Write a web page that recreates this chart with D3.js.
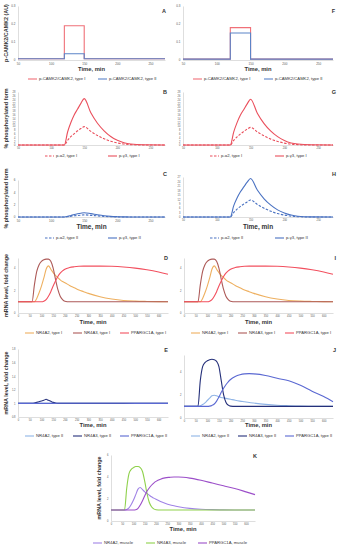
<!DOCTYPE html>
<html>
<head>
<meta charset="utf-8">
<script src="https://cdn.jsdelivr.net/npm/d3@7"></script>
<style>
  body { margin: 0; background: #fff; }
  svg { display: block; font-family: "Liberation Sans", Arial, sans-serif; }
</style>
</head>
<body>
<div id="chart"></div>
<script>
// ---- data ----
// CAMK2 pulse (panels A, F)
const tCamk = [50, 120, 120, 150, 150, 272];
const camkA1 = [0.007, 0.007, 0.19, 0.19, 0.007, 0.007];
const camkA2 = [0.007, 0.007, 0.035, 0.035, 0.007, 0.007];
const camkF1 = [0.005, 0.005, 0.18, 0.18, 0.005, 0.005];
const camkF2 = [0.005, 0.005, 0.15, 0.15, 0.005, 0.005];

// AMPK subunit phosphorylation (panels B, C, G, H)
const tPhos = [50, 120, 125, 130, 135, 140, 145, 150, 160, 170, 180, 190, 200, 210, 220, 240, 272];
const gammaB = [0, 0, 7, 12, 16, 19, 22, 24.5, 17, 11.5, 7.5, 4.5, 2.5, 1.2, 0.5, 0.1, 0];
const alphaB = [0, 0, 2.5, 4.5, 6, 7.5, 8.7, 9.7, 7.2, 5, 3.3, 2, 1.1, 0.5, 0.2, 0, 0];
const gammaG = [0, 0, 6.8, 11.8, 15.8, 18.8, 21.7, 24.2, 16.8, 11.3, 7.3, 4.4, 2.4, 1.1, 0.5, 0.1, 0];
const alphaG = [0, 0, 2.4, 4.3, 5.8, 7.2, 8.4, 9.3, 6.9, 4.8, 3.1, 1.9, 1, 0.5, 0.2, 0, 0];
const gammaC = [0, 0, 0.1, 0.25, 0.4, 0.52, 0.62, 0.7, 0.55, 0.36, 0.2, 0.1, 0.05, 0.02, 0, 0, 0];
const alphaC = [0, 0, 0.05, 0.12, 0.19, 0.25, 0.3, 0.35, 0.27, 0.18, 0.1, 0.05, 0.02, 0, 0, 0, 0];
const gammaH = [0, 0, 7.5, 12.8, 17, 20.3, 23.5, 26, 18.2, 12.3, 8, 4.8, 2.7, 1.3, 0.5, 0.1, 0];
const alphaH = [0, 0, 3, 5.3, 7.2, 8.8, 10.2, 11.5, 8.5, 5.9, 3.9, 2.3, 1.3, 0.6, 0.2, 0, 0];

// mRNA fold change (panels D, E, I, J, K)
const tMrna = [0, 50, 60, 70, 80, 90, 100, 110, 120, 130, 140, 150, 160, 170, 180, 190, 200,
  220, 240, 260, 280, 300, 350, 400, 450, 500, 550, 600, 640];
const nr4a2TypeI = [1, 1, 1, 1, 1.3, 1.8, 2.4, 3.1, 3.9, 4.2, 3.9, 3.6, 3.35, 3.15, 2.95, 2.8, 2.7,
  2.45, 2.25, 2.05, 1.9, 1.75, 1.45, 1.25, 1.12, 1.06, 1.03, 1.01, 1];
const nr4a3TypeI = [1, 1, 1, 2.5, 3.7, 4.3, 4.6, 4.75, 4.8, 4.8, 4.6, 4, 3, 2.1, 1.5, 1.2, 1.05,
  1, 1, 1, 1, 1, 1, 1, 1, 1, 1, 1, 1];
const pgcTypeI = [1, 1, 1, 1, 1, 1, 1, 1.05, 1.2, 1.5, 1.9, 2.4, 2.85, 3.25, 3.55, 3.75, 3.9,
  4.05, 4.12, 4.16, 4.18, 4.18, 4.18, 4.16, 4.1, 4, 3.85, 3.65, 3.45];
const nr4a2TypeIIweak = [1, 1, 1, 1, 1, 1, 1, 1, 1, 1, 1, 1, 1, 1, 1, 1, 1,
  1, 1, 1, 1, 1, 1, 1, 1, 1, 1, 1, 1];
const nr4a3TypeIIweak = [1, 1, 1, 1.005, 1.015, 1.025, 1.035, 1.045, 1.06, 1.045, 1.03, 1.015, 1.005, 1, 1, 1, 1,
  1, 1, 1, 1, 1, 1, 1, 1, 1, 1, 1, 1];
const pgcTypeIIweak = [1, 1, 1, 1, 1, 1, 1, 1, 1, 1, 1, 1.001, 1.002, 1.003, 1.003, 1.003, 1.003,
  1.003, 1.003, 1.003, 1.003, 1.003, 1.002, 1.002, 1.002, 1.001, 1.001, 1.001, 1.001];
const nr4a2TypeII = [1, 1, 1, 1.05, 1.15, 1.3, 1.5, 1.7, 1.9, 1.95, 1.9, 1.82, 1.76, 1.72, 1.68, 1.64, 1.6,
  1.52, 1.45, 1.39, 1.33, 1.28, 1.17, 1.09, 1.05, 1.02, 1.01, 1, 1];
const nr4a3TypeII = [1, 1, 1, 3.2, 4.4, 4.75, 4.9, 5, 5.03, 5, 4.85, 4.4, 3.2, 2, 1.35, 1.1, 1.02,
  1, 1, 1, 1, 1, 1, 1, 1, 1, 1, 1, 1];
const pgcTypeII = [1, 1, 1, 1, 1, 1, 1, 1.02, 1.08, 1.2, 1.45, 1.8, 2.2, 2.55, 2.85, 3.1, 3.3,
  3.55, 3.7, 3.78, 3.8, 3.78, 3.65, 3.4, 3.2, 2.8, 2.3, 1.85, 1.4];
const nr4a2Muscle = [1, 1, 1, 1.05, 1.2, 1.5, 1.9, 2.4, 2.9, 3.05, 2.85, 2.65, 2.5, 2.35, 2.2, 2.08, 1.97,
  1.78, 1.62, 1.48, 1.38, 1.3, 1.15, 1.07, 1.03, 1.01, 1, 1, 1];
const nr4a3Muscle = [1, 1, 1, 3, 4.3, 4.7, 4.85, 4.95, 4.95, 4.85, 4.5, 3.6, 2.5, 1.7, 1.3, 1.1, 1.03,
  1, 1, 1, 1, 1, 1, 1, 1, 1, 1, 1, 1];
const pgcMuscle = [1, 1, 1, 1, 1, 1, 1, 1.03, 1.15, 1.45, 1.85, 2.3, 2.7, 3, 3.25, 3.45, 3.6,
  3.8, 3.92, 3.97, 4, 4, 3.9, 3.7, 3.45, 3.2, 2.95, 2.65, 2.4];

// tick labels
const camkXTicks = [50, 100, 150, 200, 250];
const camkYTicks = [0, 0.1, 0.2, 0.3];
const phosYTicksB = [0, 2, 4, 6, 8, 10, 12, 14, 16, 18, 20, 22, 24, 26, 28];
const phosYTicksC = [0, 2, 4, 6];
const phosYTicksH = [0, 3, 6, 9, 12, 15, 18, 21, 24, 27];
const mrnaXTicks = [0, 50, 100, 150, 200, 250, 300, 350, 400, 450, 500, 550, 600];
const mrnaYTicks = [0, 2, 4];
const mrnaYTicksE = [0.8, 1, 1.2, 1.4, 1.6, 1.8];
const mrnaYTicksJK = [0, 2, 4, 6];

// colours
const red1 = "#f07078", blue2 = "#5b84c8";
const phosRed = "#ea4f5c", phosBlue = "#4a72c2";
const cNr4a2I = "#eeb060", cNr4a3I = "#ad5a58", cPgcI = "#f2505f";
const cNr4a2II = "#8fb4e6", cNr4a3II = "#25307a", cPgcII = "#5a68d2";
const cNr4a2M = "#a083e6", cNr4a3M = "#8fd14c", cPgcM = "#9c4fc9";

const W = 338, H = 550;
const svg = d3.select("#chart").append("svg").attr("width", W).attr("height", H);

function panel(p) {
  const x = d3.scaleLinear().domain(p.xDomain).range([p.left, p.right]);
  const y = d3.scaleLinear().domain(p.yDomain).range([p.bottom, p.top]);
  const g = svg.append("g");

  // axes
  const xAxis = g.append("g")
    .attr("transform", `translate(0,${p.bottom})`)
    .call(d3.axisBottom(x).tickValues(p.xTicks).tickSize(0).tickPadding(2.5));
  const yAxis = g.append("g")
    .attr("transform", `translate(${p.left},0)`)
    .call(d3.axisLeft(y).tickValues(p.yTicks).tickSize(0).tickPadding(2.5)
      .tickFormat(d3.format("~g")));
  [xAxis, yAxis].forEach((a) => {
    a.select(".domain").attr("stroke", "#c8c8c8").attr("stroke-width", 0.6);
    a.selectAll("text").attr("fill", "#555").style("font-size", p.tickFont || "3px");
  });

  // series
  const line = d3.line()
    .x((d) => x(d[0]))
    .y((d) => y(d[1]))
    .curve(p.curve || d3.curveMonotoneX);
  p.series.forEach((s) => {
    g.append("path")
      .datum(p.t.map((t, i) => [t, s.values[i]]))
      .attr("fill", "none")
      .attr("stroke", s.color)
      .attr("stroke-width", s.width || 1.1)
      .attr("stroke-dasharray", s.dash || null)
      .attr("d", line);
  });

  // axis titles
  if (p.xTitle) {
    g.append("text")
      .attr("x", (p.left + p.right) / 2)
      .attr("y", p.xTitleY)
      .attr("text-anchor", "middle")
      .style("font-size", p.xTitleSize || "5.8px")
      .style("font-weight", "bold")
      .attr("fill", "#333")
      .text(p.xTitle);
  }
  if (p.yTitle) {
    g.append("text")
      .attr("transform", `translate(${p.yTitleX},${(p.top + p.bottom) / 2}) rotate(-90)`)
      .attr("text-anchor", "middle")
      .style("font-size", p.yTitleSize || "5.4px")
      .style("font-weight", "bold")
      .attr("fill", "#333")
      .text(p.yTitle);
  }

  // panel letter
  g.append("text")
    .attr("x", p.letterX)
    .attr("y", p.letterY)
    .attr("text-anchor", "end")
    .style("font-size", "5.5px")
    .style("font-weight", "bold")
    .attr("fill", "#333")
    .text(p.letter);

  // legend
  p.series.forEach((s, i) => {
    const lx = p.legendX[i];
    g.append("line")
      .attr("x1", lx).attr("x2", lx + 9)
      .attr("y1", p.legendY).attr("y2", p.legendY)
      .attr("stroke", s.color)
      .attr("stroke-width", s.width || 1.1)
      .attr("stroke-dasharray", s.dash || null);
    g.append("text")
      .attr("x", lx + 11)
      .attr("y", p.legendY + 1.4)
      .style("font-size", p.legendFont || "4.2px")
      .attr("fill", "#333")
      .text(s.label);
  });
}

const camkCfg = {
  t: tCamk, xDomain: [50, 272], yDomain: [0, 0.3], xTicks: camkXTicks, yTicks: camkYTicks,
  top: 6, bottom: 60, xTitle: "Time, min", xTitleY: 71, legendY: 79, curve: d3.curveLinear
};
panel({ ...camkCfg, left: 18, right: 165, letter: "A", letterX: 166, letterY: 13,
  yTitle: "p-CAMK2/CAMK2 (AU)", yTitleX: 8, legendX: [28, 98],
  series: [
    { label: "p-CAMK2/CAMK2, type I", values: camkA1, color: red1 },
    { label: "p-CAMK2/CAMK2, type II", values: camkA2, color: blue2 }
  ] });
panel({ ...camkCfg, left: 183, right: 333, letter: "F", letterX: 335, letterY: 13,
  legendX: [193, 264],
  series: [
    { label: "p-CAMK2/CAMK2, type I", values: camkF1, color: red1 },
    { label: "p-CAMK2/CAMK2, type II", values: camkF2, color: blue2 }
  ] });

const phosCfg = { t: tPhos, xDomain: [50, 272], xTicks: camkXTicks, tickFont: "2.6px" };
panel({ ...phosCfg, left: 18, right: 165, top: 92, bottom: 145, yDomain: [0, 28],
  yTicks: phosYTicksB, letter: "B", letterX: 167, letterY: 94,
  yTitle: "% phosphorylated form", yTitleX: 8, legendY: 156, legendX: [45, 108],
  series: [
    { label: "p-α2, type I", values: alphaB, color: phosRed, dash: "2.5,1.5" },
    { label: "p-γ3, type I", values: gammaB, color: phosRed }
  ] });
panel({ ...phosCfg, left: 183, right: 333, top: 92, bottom: 145, yDomain: [0, 28],
  yTicks: phosYTicksB, letter: "G", letterX: 336, letterY: 94,
  legendY: 156, legendX: [210, 275],
  series: [
    { label: "p-α2, type I", values: alphaG, color: phosRed, dash: "2.5,1.5" },
    { label: "p-γ3, type I", values: gammaG, color: phosRed }
  ] });
panel({ ...phosCfg, left: 18, right: 165, top: 180, bottom: 217, yDomain: [0, 6],
  yTicks: phosYTicksC, letter: "C", letterX: 167, letterY: 176, tickFont: "3px",
  yTitle: "% phosphorylated form", yTitleX: 8, xTitle: "Time, min", xTitleY: 229,
  xTitleSize: "6.5px", legendY: 238, legendX: [45, 108],
  series: [
    { label: "p-α2, type II", values: alphaC, color: phosBlue, dash: "2.5,1.5" },
    { label: "p-γ3, type II", values: gammaC, color: phosBlue }
  ] });
panel({ ...phosCfg, left: 183, right: 333, top: 177, bottom: 217, yDomain: [0, 27],
  yTicks: phosYTicksH, letter: "H", letterX: 336, letterY: 176,
  xTitle: "Time, min", xTitleY: 229, xTitleSize: "6.5px", legendY: 238, legendX: [210, 275],
  series: [
    { label: "p-α2, type II", values: alphaH, color: phosBlue, dash: "2.5,1.5" },
    { label: "p-γ3, type II", values: gammaH, color: phosBlue }
  ] });

const mrnaCfg = { t: tMrna, xDomain: [0, 640], xTicks: mrnaXTicks, tickFont: "2.6px" };
const seriesTypeI = [
  { label: "NR4A2, type I", values: nr4a2TypeI, color: cNr4a2I },
  { label: "NR4A3, type I", values: nr4a3TypeI, color: cNr4a3I },
  { label: "PPARGC1A, type I", values: pgcTypeI, color: cPgcI }
];
panel({ ...mrnaCfg, left: 18, right: 168, top: 258, bottom: 313, yDomain: [0, 4.9],
  yTicks: mrnaYTicks, letter: "D", letterX: 168, letterY: 260,
  yTitle: "mRNA level, fold change", yTitleX: 8, xTitle: "Time, min", xTitleY: 324,
  legendY: 333, legendX: [25, 73, 120], series: seriesTypeI });
panel({ ...mrnaCfg, left: 184, right: 333, top: 258, bottom: 313, yDomain: [0, 4.9],
  yTicks: mrnaYTicks, letter: "I", letterX: 336, letterY: 260,
  xTitle: "Time, min", xTitleY: 324, legendY: 333, legendX: [191, 238, 285],
  series: seriesTypeI });

panel({ ...mrnaCfg, left: 18, right: 168, top: 349, bottom: 417, yDomain: [0.8, 1.8],
  yTicks: mrnaYTicksE, letter: "E", letterX: 168, letterY: 352,
  yTitle: "mRNA level, fold change", yTitleX: 8, xTitle: "Time, min", xTitleY: 427,
  legendY: 436, legendX: [25, 73, 120],
  series: [
    { label: "NR4A2, type II", values: nr4a2TypeIIweak, color: cNr4a2II },
    { label: "NR4A3, type II", values: nr4a3TypeIIweak, color: cNr4a3II },
    { label: "PPARGC1A, type II", values: pgcTypeIIweak, color: cPgcII }
  ] });
panel({ ...mrnaCfg, left: 184, right: 333, top: 355, bottom: 418, yDomain: [0, 5.4],
  yTicks: mrnaYTicks, letter: "J", letterX: 336, letterY: 352,
  xTitle: "Time, min", xTitleY: 427, legendY: 436, legendX: [191, 238, 285],
  series: [
    { label: "NR4A2, type II", values: nr4a2TypeII, color: cNr4a2II },
    { label: "NR4A3, type II", values: nr4a3TypeII, color: cNr4a3II },
    { label: "PPARGC1A, type II", values: pgcTypeII, color: cPgcII }
  ] });

panel({ ...mrnaCfg, left: 111, right: 255, top: 455, bottom: 521, yDomain: [0, 6],
  yTicks: mrnaYTicksJK, letter: "K", letterX: 257, letterY: 458,
  yTitle: "mRNA level, fold change", yTitleX: 101, xTitle: "Time, min", xTitleY: 531,
  legendY: 543, legendX: [93, 146, 198],
  series: [
    { label: "NR4A2, muscle", values: nr4a2Muscle, color: cNr4a2M },
    { label: "NR4A3, muscle", values: nr4a3Muscle, color: cNr4a3M },
    { label: "PPARGC1A, muscle", values: pgcMuscle, color: cPgcM }
  ] });
</script>
</body>
</html>
